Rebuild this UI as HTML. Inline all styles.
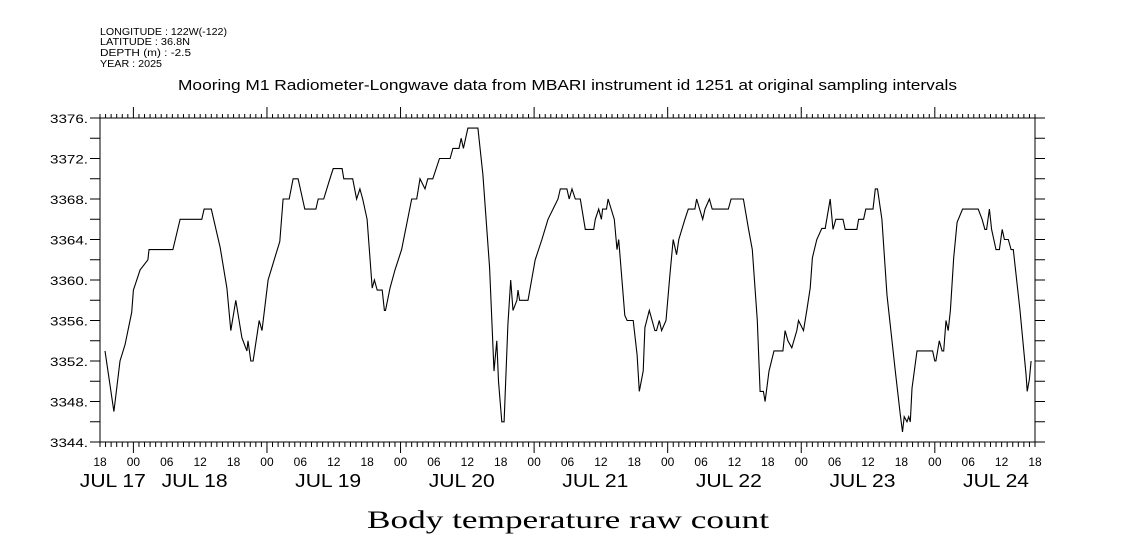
<!DOCTYPE html>
<html><head><meta charset="utf-8"><style>
html,body{margin:0;padding:0;background:#fff;}
svg{display:block;font-family:"Liberation Sans",sans-serif;}
</style></head><body>
<svg id="chart" width="1121" height="560" viewBox="0 0 1121 560" xmlns="http://www.w3.org/2000/svg">
<g font-size="10" fill="#000">
<text x="100" y="35" textLength="127" lengthAdjust="spacingAndGlyphs">LONGITUDE : 122W(-122)</text>
<text x="100" y="45" textLength="90" lengthAdjust="spacingAndGlyphs">LATITUDE : 36.8N</text>
<text x="100" y="56" textLength="91" lengthAdjust="spacingAndGlyphs">DEPTH (m) : -2.5</text>
<text x="100" y="67" textLength="62" lengthAdjust="spacingAndGlyphs">YEAR : 2025</text>
</g>
<text x="178" y="90" textLength="779" lengthAdjust="spacingAndGlyphs" font-size="15">Mooring M1 Radiometer-Longwave data from MBARI instrument id 1251 at original sampling intervals</text>
<text x="367" y="528" textLength="402" lengthAdjust="spacingAndGlyphs" font-size="25" font-family="Liberation Serif, serif">Body temperature raw count</text>
<rect x="100" y="118" width="935" height="324" fill="none" stroke="#000" stroke-width="1"/>
<g id="axes"></g>
<path id="series" fill="none" stroke="#000" stroke-width="1.1"/>
</svg>
<script>
const hours = [0.9,2.5,3.6,4.5,5.7,6,7.2,8.6,8.8,13.1,14.4,18.3,18.7,20,21.6,22.8,23.5,24.4,25.5,26.4,26.6,27.1,27.5,28.6,29.1,30.2,31.3,32.3,32.9,34,34.7,35.6,36.8,38.8,39.2,40.2,41.3,41.9,43.1,43.5,43.8,45.4,46.1,46.7,47.2,48,48.9,49.3,49.8,50.7,51.1,51.3,52.1,53,54.2,56,56.9,57.5,58.4,58.9,59.8,61,62.9,63.4,64.5,64.9,65.3,66.1,67.9,68.8,70,70.8,71.3,71.6,72.2,72.6,73.3,73.8,74.2,74.9,75.1,75.4,76.9,78.2,79.4,80.5,81.4,82.3,82.7,83.9,84.3,84.8,85.4,86.3,87.2,88.7,89,89.6,90.1,90.3,91,91.3,92.4,92.9,93.2,94.3,94.7,95.8,96.5,96.9,97.6,97.9,98.7,99.7,100,100.5,100.9,101.7,102.4,103,103.6,104,105.1,105.7,106.9,107.2,108.3,108.7,109.5,110,112.9,113.4,115.6,116.5,117.2,118.1,118.6,119.2,119.5,120.2,121.1,122.7,123.1,123.6,124.3,125.2,125.5,126.4,127,127.6,128,128.8,129.7,130.3,131.2,131.7,132.2,133.5,133.9,136,136.3,137.2,137.6,138.9,139.3,139.7,140.5,141.4,142.9,143.8,144.2,144.5,145,145.3,145.6,145.9,146.8,149.6,150,150.2,150.8,151.3,151.6,152,152.4,152.8,153.4,154,155,157.8,158.5,159,159.3,159.8,160.2,161,161.6,162.1,162.5,163.2,163.7,164.1,165.3,166.4,166.6,167,167.3];
const values = [3353,3347,3352,3353.6,3356.8,3359,3361,3362,3363,3363,3366,3366,3367,3367,3363.2,3359.2,3355,3358,3354.3,3353,3354,3352,3352,3356,3355,3360,3362,3363.8,3368,3368,3370,3370,3367,3367,3368,3368,3370,3371,3371,3371,3370,3370,3368,3369,3368,3366,3359.2,3360,3359,3359,3357,3357,3359.2,3361,3363,3368,3368,3370,3369,3370,3370,3372,3372,3373,3373,3374,3373,3375,3375,3370.4,3361.2,3351,3354,3350,3346,3346,3355.6,3360,3357,3358,3359,3358,3358,3362,3364,3366,3367,3368,3369,3369,3368,3369,3368,3368,3365,3365,3366,3367,3366,3367,3367,3368,3366,3363,3364,3356.5,3356,3356,3352.6,3349,3351,3355.3,3357,3355,3355,3356,3355,3356,3360.5,3364,3362.5,3364,3366,3367,3367,3368,3366,3367,3368,3367,3367,3368,3368,3365.1,3363,3356,3349,3349,3348,3351,3353,3353,3355,3354,3353.3,3355,3356,3355,3357,3359.2,3362.2,3364,3365.1,3365.1,3368,3365,3366,3366,3365,3365,3366,3366,3367,3367,3369,3369,3366,3358.5,3351,3346.7,3345,3346.5,3346,3346.5,3346,3349.3,3353,3353,3352,3352,3354,3353,3353,3356,3355,3357,3362.2,3365.7,3367,3367,3366,3365,3365,3367,3365,3363,3363,3365,3364,3364,3363,3363,3357,3350.6,3349,3350.2,3352];
const yTickValues = [3344,3348,3352,3356,3360,3364,3368,3372,3376];
const hourLabels = ["18","00","06","12","18","00","06","12","18","00","06","12","18","00","06","12","18","00","06","12","18","00","06","12","18","00","06","12","18"];
const dateLabels = ["JUL 17","JUL 18","JUL 19","JUL 20","JUL 21","JUL 22","JUL 23","JUL 24"];
const dateHours = [2.3,17,41,65,89,113,137,161];

const X0=100,X1=1035,Y0=442,Y1=118,HMAX=168,VMIN=3344,VMAX=3376;
const xs=h=>X0+(h/HMAX)*(X1-X0);
const ys=v=>Y0-(v-VMIN)/(VMAX-VMIN)*(Y0-Y1);
const NS="http://www.w3.org/2000/svg";
const axes=document.getElementById('axes');
function line(x1,y1,x2,y2){const l=document.createElementNS(NS,'line');l.setAttribute('x1',x1);l.setAttribute('y1',y1);l.setAttribute('x2',x2);l.setAttribute('y2',y2);l.setAttribute('stroke','#000');l.setAttribute('stroke-width','1');axes.appendChild(l);return l;}
function text(x,y,s,size,anchor){const t=document.createElementNS(NS,'text');t.setAttribute('x',x);t.setAttribute('y',y);t.setAttribute('font-size',size);t.setAttribute('text-anchor',anchor);t.textContent=s;axes.appendChild(t);return t;}
for(let v=VMIN;v<=VMAX;v+=2){
  const y=ys(v);
  const a=line(X0-10,y,X0,y);
  
  
  const b=line(X1,y,X1+10,y);
  
  
}
yTickValues.forEach(v=>{
  const t=text(X0-50,ys(v)+5,v+'.',12,'start');
  t.setAttribute('textLength','38');
  t.setAttribute('lengthAdjust','spacingAndGlyphs');
  
  
});
for(let h=0;h<=HMAX;h++){
  const x=xs(h);const major=((h+18)%24===0);
  const a=line(x,Y0,x,Y0+(major?11:5));
  
  
  const b=line(x,Y1,x,Y1-(major?11:4));
  
  
}
hourLabels.forEach((s,i)=>{
  const t=text(xs(i*6),466,s,12,'middle');
  
  
});
dateLabels.forEach((s,i)=>{
  const t=text(xs(dateHours[i])-33,487,s,18,'start');
  t.setAttribute('textLength','66');
  t.setAttribute('lengthAdjust','spacingAndGlyphs');
  
  
});
let d='';
hours.forEach((h,i)=>{d+=(i?'L':'M')+xs(h).toFixed(1)+','+ys(values[i]).toFixed(1);});
document.getElementById('series').setAttribute('d',d);
</script>
</body></html>
